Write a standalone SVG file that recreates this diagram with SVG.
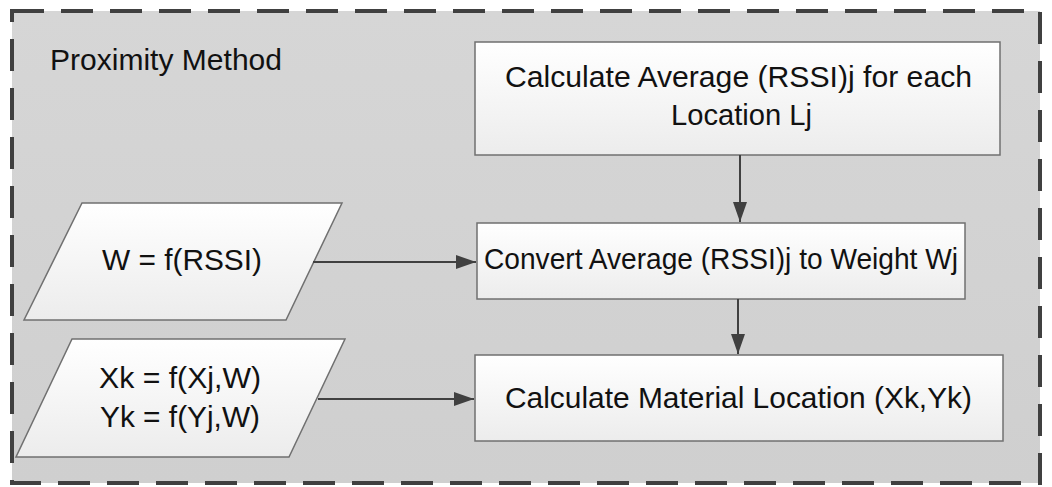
<svg xmlns="http://www.w3.org/2000/svg" width="1052" height="487" viewBox="0 0 1052 487">
<defs>
<linearGradient id="bg" x1="0" y1="0" x2="0" y2="1"><stop offset="0" stop-color="#d6d6d6"/><stop offset="1" stop-color="#cfcfcf"/></linearGradient>
<linearGradient id="nf" x1="0" y1="0" x2="0" y2="1"><stop offset="0" stop-color="#ffffff"/><stop offset="1" stop-color="#ececec"/></linearGradient>
<marker id="ahl" markerWidth="20" markerHeight="14" refX="20" refY="7" orient="auto" markerUnits="userSpaceOnUse" viewBox="0 0 20 14">
<path d="M0,0 L20,7 L0,14 z" fill="#404040"/>
</marker>
</defs>
<style>
.node{fill:url(#nf);stroke:#707070;stroke-width:1.5}
.t{font-family:"Liberation Sans",Arial,sans-serif;font-size:29px;fill:#111}
.conn{stroke:#404040;stroke-width:2;fill:none;marker-end:url(#ahl)}
</style>
<rect width="1052" height="487" fill="#ffffff"/>
<g id="frame">
<rect x="12" y="11" width="1028" height="472" fill="url(#bg)" stroke="#404040" stroke-width="4" stroke-dasharray="32,17"/>
<text class="t" x="50" y="70" textLength="232" lengthAdjust="spacingAndGlyphs">Proximity Method</text>
</g>
<g id="n1">
<rect class="node" x="475" y="42" width="525" height="113"/>
<text class="t" x="505" y="87" textLength="467" lengthAdjust="spacingAndGlyphs">Calculate Average (RSSI)j for each</text>
<text class="t" x="671" y="125" textLength="141" lengthAdjust="spacingAndGlyphs">Location Lj</text>
</g>
<g id="n2">
<rect class="node" x="477" y="223" width="488" height="76"/>
<text class="t" x="484" y="269" textLength="474" lengthAdjust="spacingAndGlyphs">Convert Average (RSSI)j to Weight Wj</text>
</g>
<g id="n3">
<rect class="node" x="475" y="355" width="528" height="86"/>
<text class="t" x="505" y="408" textLength="467" lengthAdjust="spacingAndGlyphs">Calculate Material Location (Xk,Yk)</text>
</g>
<g id="p1">
<polygon class="node" points="82,203 342,203 286,320 24,320"/>
<text class="t" x="102" y="270" textLength="160" lengthAdjust="spacingAndGlyphs">W = f(RSSI)</text>
</g>
<g id="p2">
<polygon class="node" points="72,339 345,339 289,457 16,457"/>
<text class="t" x="99" y="388" textLength="162" lengthAdjust="spacingAndGlyphs">Xk = f(Xj,W)</text>
<text class="t" x="100" y="427" textLength="160" lengthAdjust="spacingAndGlyphs">Yk = f(Yj,W)</text>
</g>
<g id="connectors">
<line class="conn" x1="740" y1="155" x2="740" y2="222"/>
<line class="conn" x1="738" y1="299" x2="738" y2="354"/>
<line class="conn" x1="313" y1="262" x2="476" y2="262"/>
<line class="conn" x1="318" y1="399" x2="474" y2="399"/>
</g>
</svg>
